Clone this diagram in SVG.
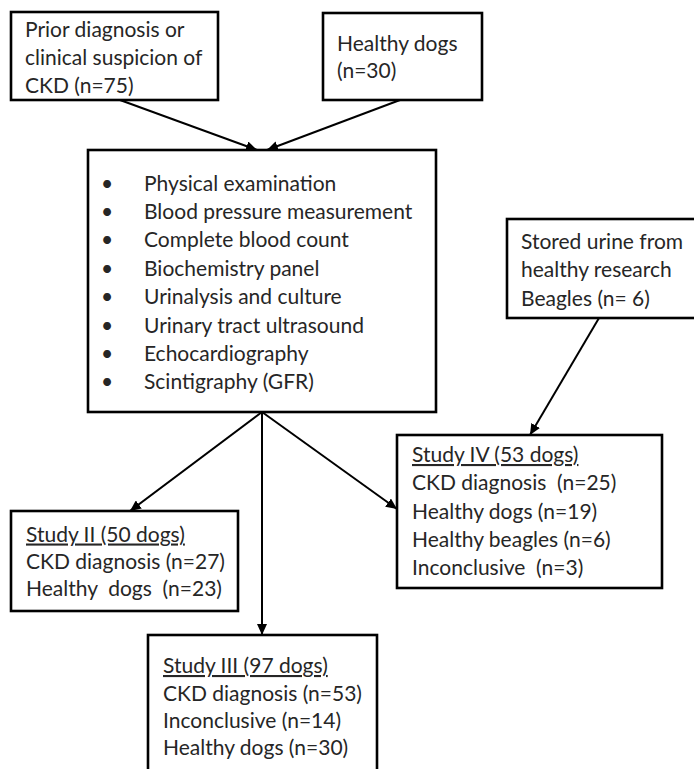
<svg xmlns="http://www.w3.org/2000/svg" width="694" height="769" viewBox="0 0 694 769">
<defs>
<style>
.box{fill:#fff;stroke:#000;stroke-width:2.6}
.t{font-family:Lato,"Liberation Sans",sans-serif;font-size:21px;fill:#262626}
.u{text-decoration:underline}
.c{stroke:#000;stroke-width:2;fill:none;marker-end:url(#ah)}
</style>
<marker id="ah" markerUnits="userSpaceOnUse" markerWidth="12" markerHeight="10" refX="11" refY="5" orient="auto">
<path d="M0,0 L11,5 L0,10 z" fill="#000"/>
</marker>
</defs>
<rect width="694" height="769" fill="#fff"/>
<g id="connectors">
<line class="c" x1="120" y1="100" x2="257" y2="150"/>
<line class="c" x1="400" y1="100" x2="267" y2="150"/>
<line class="c" x1="262" y1="412" x2="130" y2="511"/>
<line class="c" x1="262" y1="412" x2="262" y2="635"/>
<line class="c" x1="262" y1="412" x2="397" y2="509"/>
<line class="c" x1="599" y1="318" x2="530" y2="435"/>
</g>
<g id="prior">
<rect class="box" x="11" y="12" width="207" height="88"/>
<text class="t" x="25" y="37">Prior diagnosis or</text>
<text class="t" x="25" y="65">clinical suspicion of</text>
<text class="t" x="25" y="93">CKD (n=75)</text>
</g>
<g id="healthy">
<rect class="box" x="323" y="13" width="159" height="87"/>
<text class="t" x="337" y="51">Healthy dogs</text>
<text class="t" x="337" y="78">(n=30)</text>
</g>
<g id="exams">
<rect class="box" x="88" y="150" width="348" height="262"/>
<text class="t" x="101" y="190.5">•</text><text class="t" x="144" y="190.5">Physical examination</text>
<text class="t" x="101" y="219">•</text><text class="t" x="144" y="219">Blood pressure measurement</text>
<text class="t" x="101" y="247.3">•</text><text class="t" x="144" y="247.3">Complete blood count</text>
<text class="t" x="101" y="275.7">•</text><text class="t" x="144" y="275.7">Biochemistry panel</text>
<text class="t" x="101" y="304">•</text><text class="t" x="144" y="304">Urinalysis and culture</text>
<text class="t" x="101" y="332.5">•</text><text class="t" x="144" y="332.5">Urinary tract ultrasound</text>
<text class="t" x="101" y="360.5">•</text><text class="t" x="144" y="360.5">Echocardiography</text>
<text class="t" x="101" y="389">•</text><text class="t" x="144" y="389">Scintigraphy (GFR)</text>
</g>
<g id="beagles">
<rect class="box" x="507" y="219" width="190" height="99"/>
<text class="t" x="521" y="248.5">Stored urine from</text>
<text class="t" x="521" y="277">healthy research</text>
<text class="t" x="521" y="305.5">Beagles (n= 6)</text>
</g>
<g id="study4">
<rect class="box" x="397" y="435" width="265" height="153"/>
<text class="t u" x="412" y="462">Study IV (53 dogs)</text>
<text class="t" x="412" y="490" xml:space="preserve">CKD diagnosis  (n=25)</text>
<text class="t" x="412" y="518.5">Healthy dogs (n=19)</text>
<text class="t" x="412" y="547">Healthy beagles (n=6)</text>
<text class="t" x="412" y="575" xml:space="preserve">Inconclusive  (n=3)</text>
</g>
<g id="study2">
<rect class="box" x="11" y="511" width="227" height="100"/>
<text class="t u" x="26" y="541.5">Study II (50 dogs)</text>
<text class="t" x="26" y="568.5">CKD diagnosis (n=27)</text>
<text class="t" x="26" y="595.5" xml:space="preserve">Healthy  dogs  (n=23)</text>
</g>
<g id="study3">
<rect class="box" x="148" y="635" width="229" height="145"/>
<text class="t u" x="163" y="673">Study III (97 dogs)</text>
<text class="t" x="163" y="700.5">CKD diagnosis (n=53)</text>
<text class="t" x="163" y="727.5">Inconclusive (n=14)</text>
<text class="t" x="163" y="755">Healthy dogs (n=30)</text>
</g>
</svg>
